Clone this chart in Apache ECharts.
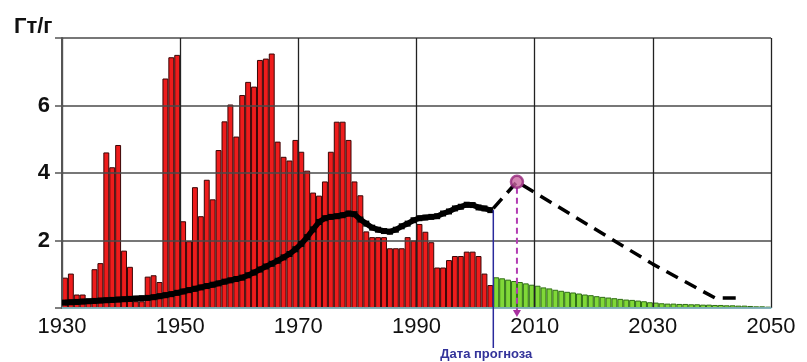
<!DOCTYPE html>
<html>
<head>
<meta charset="utf-8">
<script src="https://cdn.jsdelivr.net/npm/echarts@6/dist/echarts.min.js"></script>
<style>
html,body{margin:0;padding:0;background:#fff;}
#c{width:807px;height:362px;}
</style>
</head>
<body>
<div id="c"></div>
<script>
// ---- data ----
var histYears = [];
for (var y = 1930; y <= 2002; y++) histYears.push(y);
var histValues = [0.9,1.02,0.4,0.4,0.2,1.15,1.33,4.61,4.17,4.83,
  1.7,1.22,0.2,0.2,0.93,0.97,0.77,6.8,7.43,7.5,
  2.57,1.98,3.58,2.72,3.8,3.22,4.68,5.53,6.03,5.08,
  6.31,6.7,6.56,7.35,7.39,7.54,4.93,4.48,4.37,4.98,
  4.63,4.07,3.42,3.33,3.75,4.63,5.52,5.52,4.98,3.75,
  3.34,2.27,2.1,2.1,2.1,1.77,1.77,1.77,2.1,2.0,
  2.49,2.26,1.95,1.2,1.2,1.42,1.54,1.54,1.67,1.67,
  1.54,1.02,0.68];
var forecastYears = [];
for (var y2 = 2003; y2 <= 2049; y2++) forecastYears.push(y2);
var forecastValues = [0.91,0.88,0.84,0.80,0.77,0.73,0.69,0.66,0.61,0.58,
  0.54,0.51,0.48,0.46,0.43,0.40,0.38,0.35,0.33,0.31,
  0.29,0.27,0.25,0.24,0.22,0.20,0.17,0.16,0.14,0.13,
  0.13,0.12,0.12,0.11,0.11,0.10,0.10,0.09,0.09,0.08,
  0.08,0.07,0.07,0.06,0.05,0.05,0.04];
var discoveryAvg = [0.16,0.17,0.18,0.19,0.2,0.21,0.22,0.23,0.24,0.25,
  0.26,0.27,0.28,0.29,0.3,0.32,0.35,0.38,0.41,0.45,
  0.49,0.53,0.57,0.61,0.65,0.69,0.73,0.78,0.82,0.86,
  0.9,0.97,1.05,1.14,1.23,1.31,1.4,1.5,1.6,1.74,
  1.9,2.1,2.33,2.55,2.66,2.7,2.72,2.75,2.8,2.78,
  2.62,2.5,2.38,2.32,2.28,2.26,2.32,2.42,2.5,2.6,
  2.66,2.68,2.7,2.72,2.8,2.86,2.95,3.0,3.06,3.05,
  2.98,2.95,2.9];
var projYears = [2003, 2007, 2030, 2040.5, 2044.5];
var projValues = [2.95, 3.74, 1.3, 0.3, 0.3];
var peakYear = 2007, peakValue = 3.74;
var forecastDate = 2003;
var xTicks = [1930, 1950, 1970, 1990, 2010, 2030, 2050];
var yTicks = [2, 4, 6];

// ---- build ----
var FONT = 'Liberation Sans, Arial, sans-serif';
var barData = [];
histYears.forEach(function (yr, i) {
  barData.push({value: [yr + 0.5, histValues[i]],
    itemStyle: {color: '#ee1c1c', borderColor: '#3a0505'}});
});
forecastYears.forEach(function (yr, i) {
  barData.push({value: [yr + 0.5, forecastValues[i]],
    itemStyle: {color: '#80d838', borderColor: '#2e6e14'}});
});
var lineData = histYears.map(function (yr, i) { return [yr + 0.5, discoveryAvg[i]]; });
var projData = projYears.map(function (yr, i) { return [yr, projValues[i]]; });

var chart = echarts.init(document.getElementById('c'), null, {renderer: 'canvas'});
var gridLeft = 62, gridRight = 36;
var barW = (807 - gridLeft - gridRight) / (xTicks[xTicks.length - 1] - xTicks[0]);

chart.setOption({
  animation: false,
  backgroundColor: '#fff',
  title: {text: 'Гт/г', left: 9, top: 11,
    textStyle: {fontFamily: FONT, fontSize: 22, fontWeight: 'bold', color: '#111'}},
  grid: {left: gridLeft, right: gridRight, top: 38, bottom: 54},
  xAxis: {
    type: 'value', min: xTicks[0], max: xTicks[xTicks.length - 1], interval: 20, z: 2,
    axisLine: {show: true, onZero: false, lineStyle: {color: '#8cc9d2', width: 1.5}},
    axisTick: {show: false},
    axisLabel: {fontFamily: FONT, fontSize: 22, color: '#111', margin: 8,
      formatter: function (v) { return xTicks.indexOf(v) >= 0 ? String(v) : ''; }},
    splitLine: {show: true, lineStyle: {color: '#222', width: 1.3}}
  },
  yAxis: {
    type: 'value', min: 0, max: 8, interval: 2, z: 2,
    axisLine: {show: true, lineStyle: {color: '#555', width: 2}},
    axisTick: {show: true, length: 7, lineStyle: {color: '#555', width: 1.5}},
    axisLabel: {fontFamily: FONT, fontSize: 22, fontWeight: 'bold', color: '#111', margin: 12,
      formatter: function (v) { return yTicks.indexOf(v) >= 0 ? String(v) : ''; }},
    splitLine: {show: true, lineStyle: {color: '#4a4a4a', width: 1.5}}
  },
  series: [
    {type: 'bar', data: barData, barWidth: barW, z: 1,
      itemStyle: {borderWidth: 1}},
    {type: 'line', data: lineData, z: 4, symbol: 'rect', symbolSize: 6, showAllSymbol: true,
      itemStyle: {color: '#000'}, lineStyle: {color: '#000', width: 5.5}},
    {type: 'line', data: projData, z: 4, symbol: 'none',
      lineStyle: {color: '#000', width: 3.5, type: [13, 8]}},
    {type: 'scatter', data: [[peakYear, peakValue]], z: 6, symbol: 'circle', symbolSize: 12,
      itemStyle: {color: '#c8679f', borderColor: '#93257a', borderWidth: 2.5}}
  ]
});

function px(x, y) { return chart.convertToPixel({xAxisIndex: 0, yAxisIndex: 0}, [x, y]); }
var bTop = px(forecastDate, discoveryAvg[discoveryAvg.length - 1]);
var pk = px(peakYear, peakValue);
var base = px(peakYear, 0);
chart.setOption({
  graphic: [
    {type: 'line', z: 5, shape: {x1: bTop[0], y1: bTop[1], x2: bTop[0], y2: 348},
      style: {stroke: '#2a2a9c', lineWidth: 1.5}},
    {type: 'text', z: 5, x: bTop[0] - 7, y: 354,
      style: {text: 'Дата прогноза', fill: '#33339a', font: 'bold 13px ' + FONT,
        textAlign: 'center', textVerticalAlign: 'middle'}},
    {type: 'line', z: 5, shape: {x1: pk[0], y1: pk[1] + 6, x2: pk[0], y2: base[1] + 2},
      style: {stroke: '#b23cb2', lineWidth: 2, lineDash: [6, 4]}},
    {type: 'polygon', z: 5, shape: {points: [[pk[0] - 4, base[1] + 2], [pk[0] + 4, base[1] + 2], [pk[0], base[1] + 9]]},
      style: {fill: '#a8309f'}}
  ]
});
</script>
</body>
</html>
